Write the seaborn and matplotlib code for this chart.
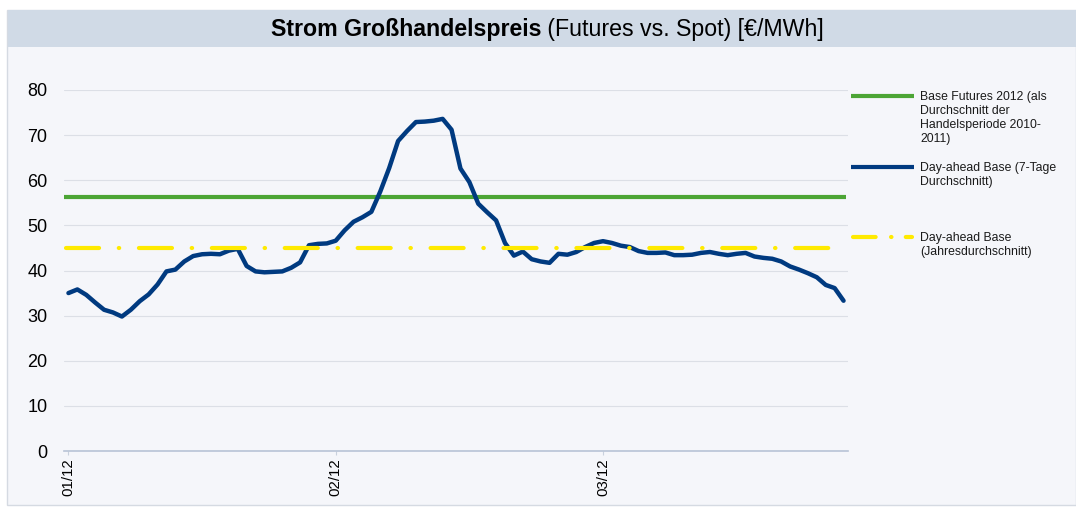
import numpy as np
import pandas as pd
import matplotlib
matplotlib.use("Agg")
import matplotlib.pyplot as plt
import seaborn as sns
from matplotlib.lines import Line2D
from matplotlib.patches import Rectangle

# ---------------- data ----------------
title_bold = "Strom Großhandelspreis"
title_rest = " (Futures vs. Spot) [€/MWh]"
tick_positions = [0, 30, 60]
tick_labels = ["01/12", "02/12", "03/12"]
y_ticks = [0, 10, 20, 30, 40, 50, 60, 70, 80]

day_ahead_7d = [
    35.0, 35.8, 34.6, 32.9, 31.3, 30.7, 29.8, 31.3, 33.2, 34.7,
    36.9, 39.8, 40.2, 42.0, 43.2, 43.6, 43.7, 43.6, 44.4, 44.8,
    41.0, 39.8, 39.6, 39.7, 39.8, 40.6, 41.8, 45.6, 45.9, 46.0,
    46.6, 48.9, 50.8, 51.8, 53.0, 57.5, 62.7, 68.7, 70.9, 72.9,
    73.0, 73.2, 73.6, 71.2, 62.6, 59.6, 54.8, 52.9, 51.1, 46.1,
    43.3, 44.2, 42.5, 42.0, 41.7, 43.7, 43.5, 44.1, 45.2, 46.1,
    46.5, 46.1, 45.5, 45.2, 44.3, 43.9, 43.9, 44.0, 43.4, 43.4,
    43.5, 43.9, 44.1, 43.7, 43.4, 43.7, 43.9, 43.1, 42.8, 42.6,
    42.0, 40.9, 40.2, 39.4, 38.5, 36.8, 36.1, 33.3,
]
futures_base_2012 = 56.2
day_ahead_year_avg = 45.0

legend_labels = [
    "Base Futures 2012 (als\nDurchschnitt der\nHandelsperiode 2010-\n2011)",
    "Day-ahead Base (7-Tage\nDurchschnitt)",
    "Day-ahead Base\n(Jahresdurchschnitt)",
]

n = len(day_ahead_7d)
df = pd.DataFrame({"idx": np.arange(n), "spot": day_ahead_7d})

# ---------------- style ----------------
sns.set_theme(style="white")
plt.rcParams["font.family"] = ["Liberation Sans", "DejaVu Sans"]
plt.rcParams["lines.scale_dashes"] = False

GREEN = "#4ca535"
BLUE = "#003a80"
YELLOW = "#ffea00"
BG = "#f5f6fa"
BAR = "#d0dae6"

W, H = 1076, 508
fig = plt.figure(figsize=(W / 100, H / 100), dpi=100)
fig.patch.set_facecolor("white")


def fx(px):
    return px / W


def fy(py):
    return (H - py) / H


# background panel and title bar
fig.add_artist(Rectangle((fx(7), fy(505)), fx(1076) - fx(7), fy(10) - fy(505),
                         transform=fig.transFigure, facecolor=BG,
                         edgecolor="#d5dae2", lw=1.0, zorder=0))
fig.add_artist(Rectangle((fx(8), fy(47)), fx(1076) - fx(8), fy(10) - fy(47),
                         transform=fig.transFigure, facecolor=BAR,
                         edgecolor="none", zorder=0.5))

# axes
left, right, top, bottom = 64, 848, 90, 451
ax = fig.add_axes([fx(left), fy(bottom), fx(right) - fx(left), fy(top) - fy(bottom)])
ax.set_facecolor("none")

lw = 3.0
dash_pat = (0, (23.8, 14.2, 0.3, 14.2))
ax.axhline(futures_base_2012, xmin=0, xmax=0.997, color=GREEN, lw=lw,
           solid_capstyle="butt", zorder=3)
sns.lineplot(data=df, x="idx", y="spot", ax=ax, color=BLUE, lw=lw + 0.2,
             solid_joinstyle="round", zorder=4)
ax.axhline(day_ahead_year_avg, xmin=0.003, xmax=0.997, color=YELLOW, lw=lw,
           linestyle=dash_pat, dash_capstyle="round", zorder=5)

ax.set_xlim(-0.5, n - 0.5)
ax.set_ylim(0, 80)
ax.set_yticks(y_ticks)
ax.set_yticklabels([str(v) for v in y_ticks], fontsize=13, color="black")
ax.set_xticks(tick_positions)
ax.set_xticklabels(tick_labels, rotation=90, fontsize=10.8, color="black",
                   va="top", ha="center")
ax.tick_params(axis="y", length=0, pad=12)
ax.tick_params(axis="x", length=3, width=0.8, color="#c9d1dd", pad=2, bottom=True)
ax.set_xlabel("")
ax.set_ylabel("")
ax.yaxis.grid(True, color="#dcdfe6", lw=0.8)
ax.xaxis.grid(False)
for s in ["left", "right", "top"]:
    ax.spines[s].set_visible(False)
ax.spines["bottom"].set_color("#b8c3d6")
ax.spines["bottom"].set_linewidth(1.2)
ax.set_axisbelow(True)
if ax.get_legend():
    ax.get_legend().remove()

# legend (manual, first text line aligned with handle)
leg_fs = 8.8
handle_x0, handle_x1, text_x = 851, 914, 920
entries = [(GREEN, "-", 95.7), (BLUE, "-", 166.7), (YELLOW, "dash", 236.7)]
for (col, st, yc), lab in zip(entries, legend_labels):
    if st == "dash":
        ln = Line2D([fx(handle_x0 + 2), fx(handle_x1 - 2)], [fy(yc), fy(yc)],
                    transform=fig.transFigure, color=col, lw=lw,
                    linestyle=(0, (16.3, 11.1, 0.3, 10.3)), dash_capstyle="round")
    else:
        ln = Line2D([fx(handle_x0), fx(handle_x1)], [fy(yc), fy(yc)],
                    transform=fig.transFigure, color=col, lw=lw,
                    solid_capstyle="butt")
    fig.add_artist(ln)
    fig.text(fx(text_x), fy(yc - 5.0), lab, fontsize=leg_fs, color="#1a1a1a",
             ha="left", va="top", linespacing=1.24)

# title (bold part + regular part, centered)
fig.canvas.draw()
r = fig.canvas.get_renderer()
fs0 = 15
t1 = fig.text(0, fy(36), title_bold, fontsize=fs0, fontweight="bold",
              ha="left", va="baseline", color="black")
t2 = fig.text(0, fy(36), title_rest, fontsize=fs0, ha="left", va="baseline",
              color="black")
w_total = t1.get_window_extent(r).width + t2.get_window_extent(r).width
fs = fs0 * 555 / w_total
t1.set_fontsize(fs)
t2.set_fontsize(fs)
w1 = t1.get_window_extent(r).width
w2 = t2.get_window_extent(r).width
x0 = 547.5 - (w1 + w2) / 2
t1.set_x(fx(x0))
t2.set_x(fx(x0 + w1))

fig.savefig("out.png", dpi=100, facecolor=fig.get_facecolor())
